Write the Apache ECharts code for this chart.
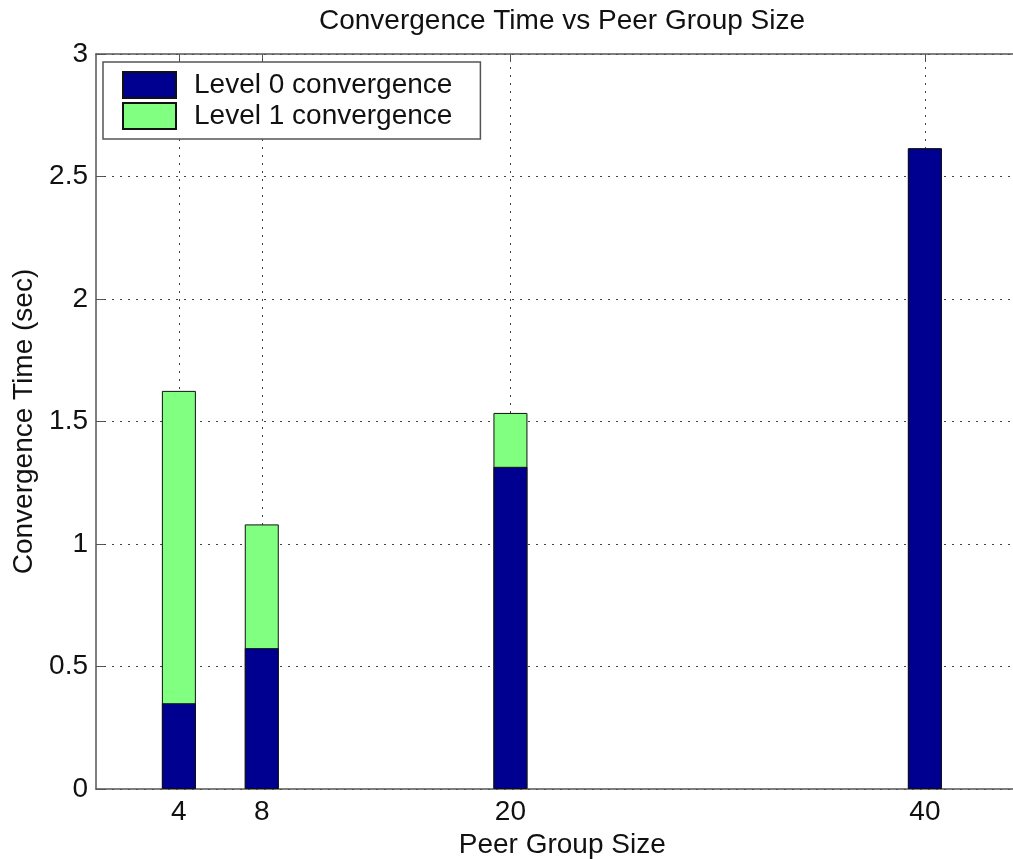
<!DOCTYPE html>
<html>
<head>
<meta charset="utf-8">
<script src="https://cdn.jsdelivr.net/npm/echarts@6/dist/echarts.min.js"></script>
<style>
html,body{margin:0;padding:0;background:#fff;}
#chart{width:1013px;height:859px;}
</style>
</head>
<body>
<div id="chart"></div>
<script>
// ---- data ----
var peerGroupSizes = [4, 8, 20, 40];
var level0Values = [0.35, 0.575, 1.315, 2.615];
var level1Values = [1.275, 0.505, 0.22, 0];
var seriesNames = ['Level 0 convergence', 'Level 1 convergence'];
var xTickValues = [4, 8, 20, 40];

var FONT = 'Liberation Sans, Arial, Helvetica, sans-serif';
var chart = echarts.init(document.getElementById('chart'), null, {renderer: 'canvas'});

// Level 0 segment from 0; Level 1 segment stacked on top of Level 0
var level0Data = peerGroupSizes.map(function (x, i) { return [x, level0Values[i]]; });
var level1TopData = peerGroupSizes.map(function (x, i) { return [x, level0Values[i] + level1Values[i]]; });

var option = {
  backgroundColor: '#fff',
  animation: false,
  title: {
    text: 'Convergence Time vs Peer Group Size',
    left: 562, textAlign: 'center',
    top: 7, padding: 0,
    textStyle: {fontFamily: FONT, fontSize: 28, fontWeight: 'normal', color: '#111'}
  },
  legend: {
    orient: 'vertical',
    left: 103, top: 62,
    padding: [9, 28, 9, 19],
    itemGap: 3,
    itemWidth: 53, itemHeight: 26,
    backgroundColor: '#fff',
    borderColor: '#555', borderWidth: 1.5, borderRadius: 0,
    icon: 'rect',
    textStyle: {fontFamily: FONT, fontSize: 28, color: '#111', lineHeight: 28, padding: [0, 0, 0, 13]},
    data: seriesNames
  },
  grid: {left: 96, top: 54, right: -15.5, bottom: 70, containLabel: false, outerBoundsMode: 'none'},
  xAxis: [{
    type: 'value', min: 0, max: 45, position: 'bottom',
    name: 'Peer Group Size', nameLocation: 'middle', nameGap: 38,
    nameTextStyle: {fontFamily: FONT, fontSize: 28, color: '#111'},
    axisLine: {show: true, lineStyle: {color: '#555', width: 1.5}},
    axisTick: {show: true, inside: true, length: 8, customValues: xTickValues, lineStyle: {color: '#555'}},
    axisLabel: {show: true, margin: 9, customValues: xTickValues, fontFamily: FONT, fontSize: 28, color: '#111'},
    splitLine: {show: false}
  }, {
    type: 'value', min: 0, max: 45, position: 'top',
    axisLine: {show: true, lineStyle: {color: '#555', width: 1.5}},
    axisTick: {show: true, inside: true, length: 8, customValues: xTickValues, lineStyle: {color: '#555'}},
    axisLabel: {show: false},
    splitLine: {show: false}
  }],
  yAxis: {
    type: 'value', min: 0, max: 3, interval: 0.5,
    name: 'Convergence Time (sec)', nameLocation: 'middle', nameGap: 46,
    nameTextStyle: {fontFamily: FONT, fontSize: 28, color: '#111'},
    axisLine: {show: true, lineStyle: {color: '#555', width: 1.5}},
    axisTick: {show: true, inside: true, length: 8, lineStyle: {color: '#555'}},
    axisLabel: {margin: 8, fontFamily: FONT, fontSize: 28, color: '#111'},
    splitLine: {show: true, lineStyle: {color: '#444', width: 1, type: [2, 6]}}
  },
  series: [{
    name: seriesNames[1], type: 'bar', barWidth: 34, barGap: '-100%', z: 2,
    itemStyle: {color: '#80FF80', borderColor: '#111', borderWidth: 1},
    data: level1TopData,
    markLine: {
      silent: true, symbol: 'none', z: 1, label: {show: false},
      lineStyle: {color: '#444', width: 1, type: [2, 6]},
      data: xTickValues.map(function (v) { return {xAxis: v}; })
    }
  }, {
    name: seriesNames[0], type: 'bar', barWidth: 34, barGap: '-100%', z: 3,
    itemStyle: {color: '#000090', borderColor: '#111', borderWidth: 1},
    data: level0Data
  }]
};
chart.setOption(option);
</script>
</body>
</html>
